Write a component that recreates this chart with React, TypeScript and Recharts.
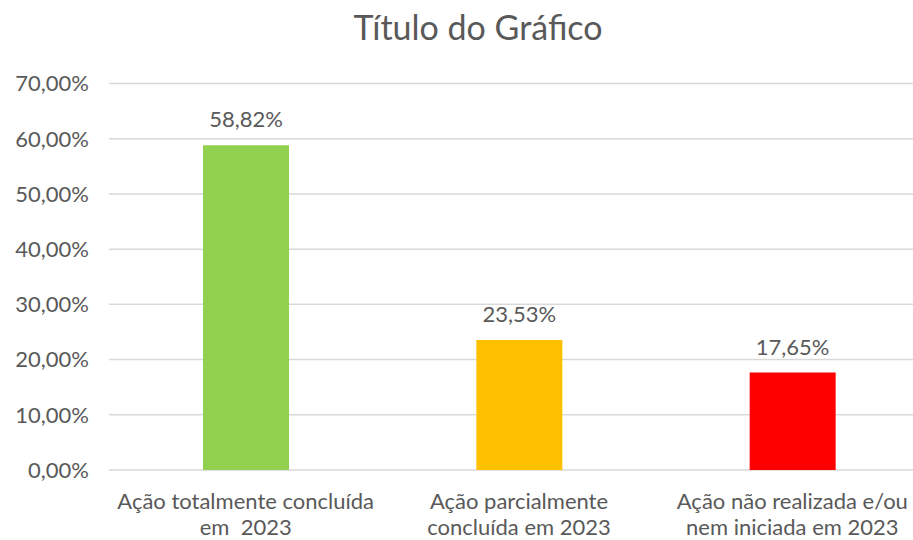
import { BarChart, Bar, XAxis, YAxis, CartesianGrid, Cell, LabelList } from 'recharts';

const categories = ['Ação totalmente concluída\nem  2023', 'Ação parcialmente\nconcluída em 2023', 'Ação não realizada e/ou\nnem iniciada em 2023'];
const values = [58.82, 23.53, 17.65];
const barColors = ['#92D050', '#FFC000', '#FF0000'];
const yTicks = [0, 10, 20, 30, 40, 50, 60, 70];

const data = categories.map((c, i) => ({ name: c, value: values[i] }));

const TEXT = '#595959';
const FONT = 'Lato, "Open Sans", sans-serif';

const fmt = (v: number) => `${v.toFixed(2).replace('.', ',')}%`;

function CategoryTick({ x, y, payload }: any) {
  const lines = String(payload.value).split('\n');
  return (
    <text x={x} y={y} textAnchor="middle" fill={TEXT} fontSize={22} fontFamily={FONT} style={{ whiteSpace: 'pre' }}>
      {lines.map((l, i) => (
        <tspan key={i} x={x} dy={i === 0 ? 31 : 26}>{l}</tspan>
      ))}
    </text>
  );
}

export default function App() {
  return (
    <div style={{ position: 'fixed', left: 0, top: 0, width: 913, height: 540, overflow: 'hidden', background: '#fff' }}>
      <div style={{ position: 'absolute', left: 478, top: 6, transform: 'translateX(-50%)', fontFamily: FONT, fontSize: 34, color: TEXT, whiteSpace: 'nowrap' }}>
        Título do Gráfico
      </div>
      <BarChart width={929} height={540} data={data} margin={{ top: 83.5, right: 0, bottom: 0, left: 0 }}>
        <CartesianGrid vertical={false} stroke="#D9D9D9" strokeWidth={1.5} />
        <XAxis dataKey="name" axisLine={false} tickLine={false} height={70} interval={0} tick={<CategoryTick />} />
        <YAxis
          width={109}
          domain={[0, 70]}
          ticks={yTicks}
          axisLine={false}
          tickLine={false}
          tickFormatter={fmt}
          tick={{ fill: TEXT, fontSize: 22, fontFamily: FONT, dx: -12 }}
        />
        <Bar dataKey="value" barSize={86} isAnimationActive={false}>
          {data.map((d, i) => (
            <Cell key={d.name} fill={barColors[i]} />
          ))}
          <LabelList dataKey="value" position="top" offset={18} formatter={(v: any) => fmt(Number(v))} fill={TEXT} fontSize={22} fontFamily={FONT} />
        </Bar>
      </BarChart>
    </div>
  );
}
